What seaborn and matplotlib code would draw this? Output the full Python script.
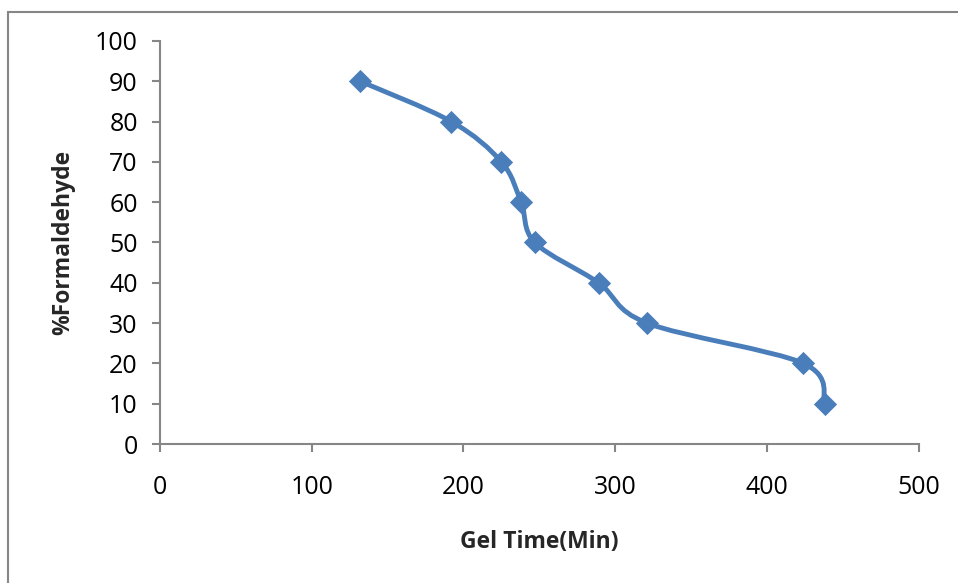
import numpy as np
import pandas as pd
import seaborn as sns
from matplotlib import pyplot as plt
from matplotlib.path import Path
from matplotlib.patches import PathPatch, Rectangle


gel_time = [132, 192, 225, 238, 247, 289, 321, 424, 438]
formaldehyde = [90, 80, 70, 60, 50, 40, 30, 20, 10]
x_ticks = [0, 100, 200, 300, 400, 500]
y_ticks = [0, 10, 20, 30, 40, 50, 60, 70, 80, 90, 100]

blue = '#4A7EBB'
grey = '#868686'

df = pd.DataFrame({'gel_time': gel_time, 'formaldehyde': formaldehyde})

sns.set_theme(style='white')
plt.rcParams['font.family'] = ['Open Sans', 'DejaVu Sans']

fig = plt.figure(figsize=(9.58, 5.83), dpi=100)
ax = fig.add_axes([0.167, 0.2384, 0.792, 0.6913])


def smooth_path(xs, ys):
    # excel style smoothed line: cubic bezier through every point
    pts = np.column_stack([xs, ys]).astype(float)
    n = len(pts)
    verts = [pts[0]]
    codes = [Path.MOVETO]
    for i in range(n - 1):
        p0 = pts[i - 1] if i > 0 else pts[i]
        p1 = pts[i]
        p2 = pts[i + 1]
        p3 = pts[i + 2] if i + 2 < n else pts[i + 1]
        c1 = p1 + (p2 - p0) / 6
        c2 = p2 - (p3 - p1) / 6
        verts += [c1, c2, p2]
        codes += [Path.CURVE4] * 3
    return Path(verts, codes)


ax.add_patch(PathPatch(smooth_path(df['gel_time'], df['formaldehyde']),
                       facecolor='none', edgecolor=blue, lw=3.5, capstyle='round', zorder=2))
sns.scatterplot(data=df, x='gel_time', y='formaldehyde', marker='D', s=140,
                color=blue, edgecolor=blue, linewidth=0, ax=ax, zorder=3)

ax.set_xlim(0, 500)
ax.set_ylim(0, 100)
ax.set_xticks(x_ticks)
ax.set_yticks(y_ticks)

for side in ['top', 'right']:
    ax.spines[side].set_visible(False)
for side in ['left', 'bottom']:
    ax.spines[side].set_color(grey)
    ax.spines[side].set_linewidth(1.5)

ax.tick_params(axis='both', direction='out', length=6, width=1.5, color=grey,
               labelsize=18, labelcolor='black')
ax.tick_params(axis='x', pad=16)
ax.tick_params(axis='y', pad=10)
ax.tick_params(left=True, bottom=True)

ax.set_xlabel('Gel Time(Min)', fontsize=16.5, fontweight='bold', labelpad=22)
ax.set_ylabel('%Formaldehyde', fontsize=16.5, fontweight='bold', labelpad=14)

# chart area frame, cut off on the right and bottom
fig.patches.append(Rectangle((0.0084, -0.1), 1.2, 1.079, transform=fig.transFigure,
                             facecolor='none', edgecolor=grey, lw=1.5, zorder=0))

fig.savefig('out.png', dpi=100)
